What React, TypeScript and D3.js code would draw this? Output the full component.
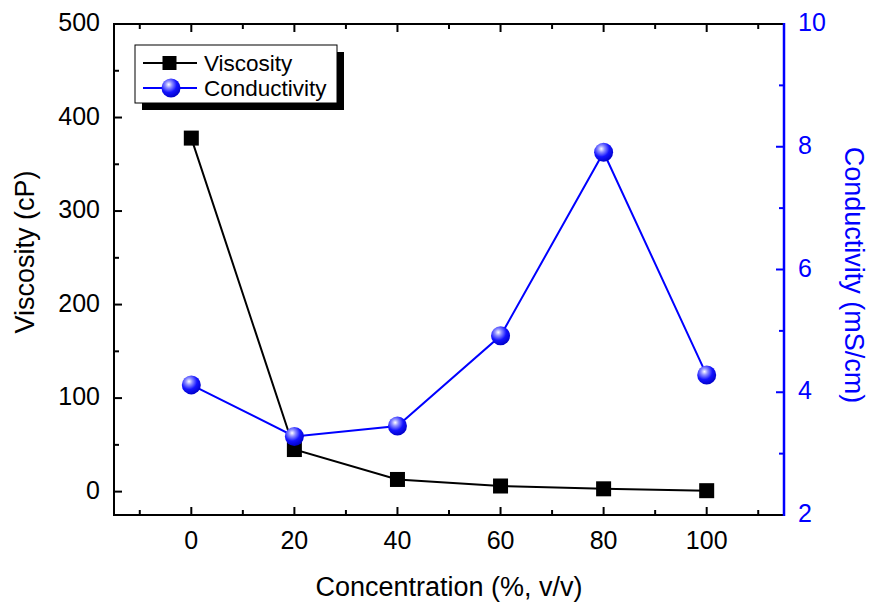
import React from "react";
import * as d3 from "d3";

const concentrations = [0, 20, 40, 60, 80, 100];
const viscosity = [378, 45, 13, 6, 3, 1];
const conductivity = [4.12, 3.28, 3.45, 4.92, 7.91, 4.28];

const xTicks = [0, 20, 40, 60, 80, 100];
const xMinor = [-10, 10, 30, 50, 70, 90, 110];
const yTicks = [0, 100, 200, 300, 400, 500];
const yMinor = [50, 150, 250, 350, 450];
const y2Ticks = [2, 4, 6, 8, 10];
const y2Minor = [3, 5, 7, 9];

const W = 872;
const H = 607;
const margin = { top: 24, right: 88, bottom: 92, left: 114 };
const BLUE = "#0000ff";
const FONT = "Arial, 'Liberation Sans', sans-serif";

export default function App() {
  const x = d3.scaleLinear().domain([-15, 115]).range([margin.left, W - margin.right]);
  const y = d3.scaleLinear().domain([-25, 500]).range([H - margin.bottom, margin.top]);
  const y2 = d3.scaleLinear().domain([2, 10]).range([H - margin.bottom, margin.top]);

  const x0 = margin.left, x1 = W - margin.right;
  const yb = H - margin.bottom, yt = margin.top;

  const visLine = d3.line<number>().x((_, i) => x(concentrations[i])).y((d) => y(d));
  const condLine = d3.line<number>().x((_, i) => x(concentrations[i])).y((d) => y2(d));

  const major = 8, minor = 5;

  return (
    <svg width={W} height={H} style={{ position: "absolute", left: 0, top: 0, background: "#fff" }} fontFamily={FONT}>
      <defs>
        <radialGradient id="ball" cx="0.38" cy="0.32" r="0.7">
          <stop offset="0" stopColor="#ffffff" />
          <stop offset="0.25" stopColor="#8f8fff" />
          <stop offset="0.6" stopColor="#1414ff" />
          <stop offset="1" stopColor="#0000c8" />
        </radialGradient>
      </defs>

      {/* ticks, pointing inwards */}
      <g stroke="#000" strokeWidth={2}>
        {xTicks.map((t) => (
          <g key={"x" + t}>
            <line x1={x(t)} x2={x(t)} y1={yb} y2={yb - major} />
            <line x1={x(t)} x2={x(t)} y1={yt} y2={yt + major} />
          </g>
        ))}
        {xMinor.map((t) => (
          <g key={"xm" + t}>
            <line x1={x(t)} x2={x(t)} y1={yb} y2={yb - minor} />
            <line x1={x(t)} x2={x(t)} y1={yt} y2={yt + minor} />
          </g>
        ))}
        {yTicks.map((t) => (
          <line key={"y" + t} x1={x0} x2={x0 + major} y1={y(t)} y2={y(t)} />
        ))}
        {yMinor.map((t) => (
          <line key={"ym" + t} x1={x0} x2={x0 + minor} y1={y(t)} y2={y(t)} />
        ))}
      </g>
      <g stroke={BLUE} strokeWidth={2}>
        {y2Ticks.map((t) => (
          <line key={"r" + t} x1={x1} x2={x1 - major} y1={y2(t)} y2={y2(t)} />
        ))}
        {y2Minor.map((t) => (
          <line key={"rm" + t} x1={x1} x2={x1 - minor} y1={y2(t)} y2={y2(t)} />
        ))}
      </g>

      {/* frame */}
      <path d={`M${x1},${yb} H${x0} V${yt} H${x1}`} fill="none" stroke="#000" strokeWidth={2} />
      <line x1={x1} x2={x1} y1={yt - 1} y2={yb + 1} stroke={BLUE} strokeWidth={2.5} />

      {/* tick labels */}
      <g fontSize={25} fill="#000" textAnchor="middle">
        {xTicks.map((t) => (
          <text key={"xl" + t} x={x(t)} y={yb + 34}>{t}</text>
        ))}
      </g>
      <g fontSize={25} fill="#000" textAnchor="end">
        {yTicks.map((t) => (
          <text key={"yl" + t} x={x0 - 14} y={y(t) + 7}>{t}</text>
        ))}
      </g>
      <g fontSize={25} fill={BLUE} textAnchor="start">
        {y2Ticks.map((t) => (
          <text key={"rl" + t} x={x1 + 14} y={y2(t) + 7}>{t}</text>
        ))}
      </g>

      {/* axis titles */}
      <text x={(x0 + x1) / 2} y={596} fontSize={27} textAnchor="middle" fill="#000">
        Concentration (%, v/v)
      </text>
      <text transform="translate(34,252) rotate(-90)" fontSize={27} textAnchor="middle" fill="#000">
        Viscosity (cP)
      </text>
      <text transform="translate(845,275) rotate(90)" fontSize={27} textAnchor="middle" fill={BLUE}>
        Conductivity (mS/cm)
      </text>

      {/* series */}
      <path d={visLine(viscosity) ?? ""} fill="none" stroke="#000" strokeWidth={2} />
      <path d={condLine(conductivity) ?? ""} fill="none" stroke={BLUE} strokeWidth={2} />
      {viscosity.map((v, i) => (
        <rect key={"v" + i} x={x(concentrations[i]) - 7.5} y={y(v) - 7.5} width={15} height={15} fill="#000" />
      ))}
      {conductivity.map((v, i) => (
        <circle key={"c" + i} cx={x(concentrations[i])} cy={y2(v)} r={9.5} fill="url(#ball)" />
      ))}

      {/* legend */}
      <g>
        <rect x={142} y={52} width={202} height={58} fill="#000" />
        <rect x={135} y={45} width={202} height={58} fill="#fff" stroke="#000" strokeWidth={1} />
        <line x1={143} x2={197} y1={63} y2={63} stroke="#000" strokeWidth={2} />
        <rect x={162.5} y={56} width={14} height={14} fill="#000" />
        <line x1={143} x2={197} y1={88} y2={88} stroke={BLUE} strokeWidth={2} />
        <circle cx={171} cy={88} r={9.5} fill="url(#ball)" />
        <text x={204} y={71} fontSize={22.5} fill="#000">Viscosity</text>
        <text x={204} y={96} fontSize={22.5} fill="#000">Conductivity</text>
      </g>
    </svg>
  );
}
